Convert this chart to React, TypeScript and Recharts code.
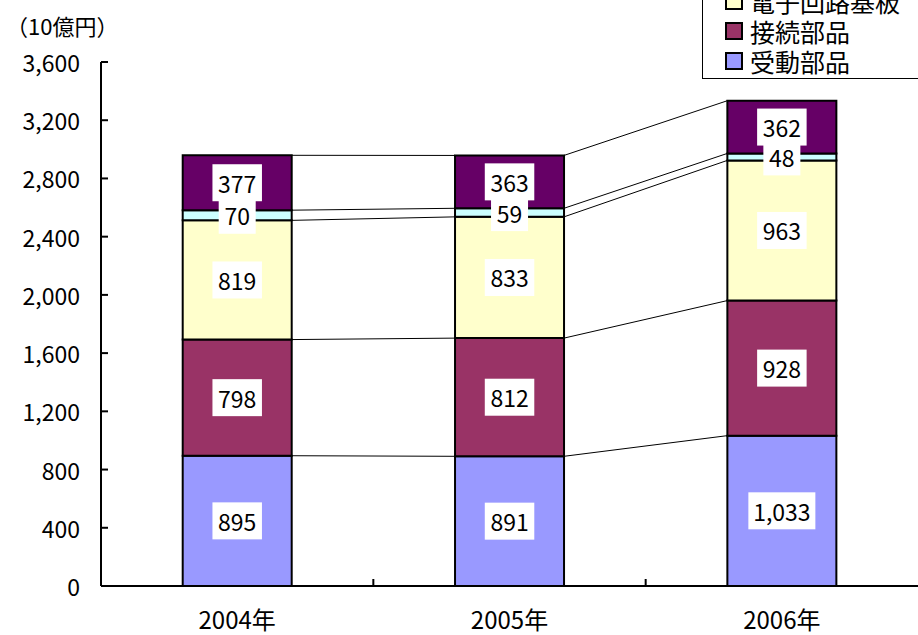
import { BarChart, Bar, XAxis, YAxis, ReferenceLine, LabelList } from "recharts"

const categories = ["2004年", "2005年", "2006年"]
const passive = [895, 891, 1033]
const connection = [798, 812, 928]
const circuitBoard = [819, 833, 963]
const conversion = [70, 59, 48]
const other = [377, 363, 362]
const yTicks = [0, 400, 800, 1200, 1600, 2000, 2400, 2800, 3200, 3600]

// bottom to top stacking order
const series = [
  { key: "passive", name: "受動部品", color: "#9999FF", values: passive },
  { key: "connection", name: "接続部品", color: "#993366", values: connection },
  { key: "circuitBoard", name: "電子回路基板", color: "#FFFFCC", values: circuitBoard },
  { key: "conversion", name: "変換部品", color: "#CCFFFF", values: conversion },
  { key: "other", name: "その他", color: "#660066", values: other },
]

const data = categories.map((c, i) => {
  const row: Record<string, string | number> = { year: c }
  series.forEach((s) => (row[s.key] = s.values[i]))
  return row
})

// cumulative tops per category, for the series lines between bars
const levels = series.map((_, si) =>
  categories.map((_, ci) => series.slice(0, si + 1).reduce((a, s) => a + s.values[ci], 0))
)

const W = 918
const H = 635
const LEFT = 101
const TOP = 62
const XH = 49
const band = (W - LEFT) / categories.length
const halfBar = band * 0.2
const FONT = "'Noto Sans CJK JP', 'Noto Sans', sans-serif"

const fmt = (v: number) => v.toLocaleString("en-US")

const ValueLabel = (props: any) => {
  const { x, y, width, height, value } = props
  const text = fmt(Number(value))
  const digits = text.replace(/,/g, "").length
  const commas = text.length - digits
  const bw = digits * 12.5 + commas * 5 + 12
  const bh = 37
  const cx = x + width / 2
  const cy = y + height / 2
  return (
    <g>
      <rect x={cx - bw / 2} y={cy - bh / 2} width={bw} height={bh} fill="#fff" />
      <text x={cx} y={cy} textAnchor="middle" dominantBaseline="central" fontSize={23} fill="#000" fontFamily={FONT}>
        {text}
      </text>
    </g>
  )
}

const XTick = (props: any) => {
  const { x, y, payload, index } = props
  return (
    <g>
      <text x={x} y={y + 43} textAnchor="middle" fontSize={24} fill="#000" fontFamily={FONT}>
        {payload.value}
      </text>
      {index < categories.length - 1 && (
        <line x1={x + band / 2} y1={y} x2={x + band / 2} y2={y - 7} stroke="#000" strokeWidth={2} />
      )}
    </g>
  )
}

const YTick = (props: any) => {
  const { x, y, payload } = props
  return (
    <g>
      <line x1={x} y1={y} x2={x + 7} y2={y} stroke="#000" strokeWidth={2} />
      <text x={x - 21} y={y} textAnchor="end" dominantBaseline="central" fontSize={23} fill="#000" fontFamily={FONT}>
        {fmt(payload.value)}
      </text>
    </g>
  )
}

const SeriesLine = (props: any) => (
  <line x1={props.x1 + halfBar} y1={props.y1} x2={props.x2 - halfBar} y2={props.y2} stroke="#000" strokeWidth={1} />
)

export default function App() {
  return (
    <div style={{ position: "absolute", left: 0, top: 0, width: W, height: H, overflow: "hidden", background: "#fff", fontFamily: FONT }}>
      <div style={{ position: "absolute", left: 6, top: 7, fontSize: 22, lineHeight: "36px", color: "#000" }}>（10億円）</div>
      <BarChart width={W} height={H} data={data} margin={{ top: TOP, right: 0, left: 0, bottom: 0 }} barCategoryGap="30%">
        <XAxis
          dataKey="year"
          height={XH}
          tickSize={0}
          tickMargin={0}
          tick={<XTick />}
          axisLine={{ stroke: "#000", strokeWidth: 2 }}
          tickLine={false}
          interval={0}
        />
        <YAxis
          width={LEFT}
          domain={[0, 3600]}
          ticks={yTicks}
          tickSize={0}
          tickMargin={0}
          tick={<YTick />}
          axisLine={{ stroke: "#000", strokeWidth: 2 }}
          tickLine={false}
          interval={0}
        />
        {series.map((s) => (
          <Bar key={s.key} dataKey={s.key} name={s.name} stackId="a" fill={s.color} stroke="#000" strokeWidth={2} isAnimationActive={false}>
            <LabelList dataKey={s.key} content={<ValueLabel />} />
          </Bar>
        ))}
        {levels.flatMap((lv, si) =>
          lv.slice(0, -1).map((v, ci) => (
            <ReferenceLine
              key={`sl-${si}-${ci}`}
              segment={[
                { x: categories[ci], y: v },
                { x: categories[ci + 1], y: lv[ci + 1] },
              ]}
              shape={<SeriesLine />}
              ifOverflow="visible"
            />
          ))
        )}
      </BarChart>
      <div
        style={{
          position: "absolute",
          left: 702,
          top: -75,
          width: 240,
          border: "1px solid #000",
          background: "#fff",
          paddingBottom: 2,
          fontSize: 25,
        }}
      >
        {[...series].reverse().map((s) => (
          <div key={s.key} style={{ height: 30, display: "flex", alignItems: "center" }}>
            <span style={{ display: "inline-block", width: 14, height: 14, marginLeft: 22, marginRight: 7, background: s.color, border: "2px solid #000" }} />
            <span style={{ lineHeight: "30px" }}>{s.name}</span>
          </div>
        ))}
      </div>
    </div>
  )
}
